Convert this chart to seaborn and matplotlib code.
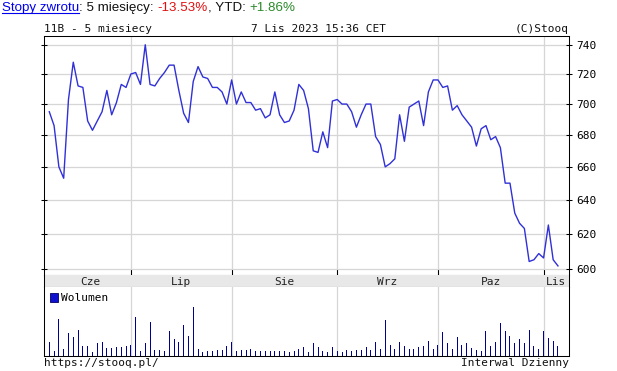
import numpy as np
import pandas as pd
import matplotlib
matplotlib.use("Agg")
import matplotlib.pyplot as plt
from matplotlib.patches import Patch
from matplotlib.lines import Line2D
from matplotlib.ticker import FixedLocator, FixedFormatter, NullLocator
import seaborn as sns

# ---------------- data ----------------
ticker = "11B"
period_label = "5 miesiecy"
timestamp = "7 Lis 2023 15:36 CET"
return_5m = -13.53
return_ytd = 1.86

holidays = ["2023-06-08", "2023-08-15", "2023-11-01"]
start_date = "2023-06-07"
end_date = "2023-11-07"

close = [695, 686, 660, 653, 703, 728, 712, 711, 689, 683,
         689, 695, 709, 693, 701, 713, 711, 720, 721, 713,
         740, 713, 712, 717, 721, 726, 726, 709, 694, 688,
         715, 725, 718, 717, 711, 711, 708, 700, 716, 700,
         708, 701, 701, 696, 697, 691, 693, 708, 693, 688,
         689, 696, 713, 709, 697, 670, 669, 682, 672, 702,
         703, 700, 700, 695, 685, 693, 700, 700, 679, 674,
         660, 662, 665, 693, 676, 698, 700, 702, 686, 708,
         716, 716, 711, 712, 696, 699, 693, 689, 685, 673,
         684, 686, 677, 679, 672, 650, 650, 632, 626, 623,
         604, 605, 608.5, 606, 625, 605, 601.5]

volume = [43, 16, 112, 22, 70, 58, 79, 31, 31, 11,
          38, 43, 24, 24, 28, 26, 31, 34, 118, 16,
          40, 103, 18, 18, 16, 76, 52, 43, 94, 61,
          148, 21, 12, 14, 16, 18, 18, 30, 43, 16,
          18, 18, 21, 16, 14, 16, 16, 16, 16, 16,
          12, 16, 22, 26, 11, 38, 28, 16, 11, 26,
          14, 11, 18, 16, 18, 18, 26, 18, 41, 21,
          109, 34, 21, 43, 31, 22, 21, 28, 30, 46,
          21, 34, 73, 40, 21, 56, 34, 38, 24, 18,
          14, 76, 31, 43, 100, 76, 61, 40, 52, 40,
          79, 31, 21, 76, 55, 46, 31]

month_names = {6: "Cze", 7: "Lip", 8: "Sie", 9: "Wrz", 10: "Paz", 11: "Lis"}
price_ticks = [600, 620, 640, 660, 680, 700, 720, 740]

# ---------------- frame ----------------
dates = pd.bdate_range(start_date, end_date, freq="C", holidays=holidays)
df = pd.DataFrame({"date": dates, "close": close, "volume": volume})
df["idx"] = np.arange(len(df))
month_first = df.groupby(df["date"].dt.month)["idx"].min()

W, H = 617, 371
fig = plt.figure(figsize=(W / 100, H / 100), dpi=100)
fig.patch.set_facecolor("white")

mono = {"family": "DejaVu Sans Mono", "size": 8}
line_col = "#3030d8"
grid_col = "#d6d6d6"
spine_lw = 0.75

x_left, x_right = -1.1, 108.3
px_l, px_r = 44, 569
px_per_idx = (px_r - px_l) / (x_right - x_left)


def fig_axes(top, bottom):
    return fig.add_axes([px_l / W, 1 - bottom / H, (px_r - px_l) / W, (bottom - top) / H])


# ---------------- price panel ----------------
ax = fig_axes(36, 275)
sns.lineplot(data=df, x="idx", y="close", ax=ax, color=line_col, linewidth=1.0)
ax.set_yscale("log")
ax.set_ylim(596.4, 746.1)
ax.set_xlim(x_left, x_right)
ax.yaxis.set_major_locator(FixedLocator(price_ticks))
ax.yaxis.set_major_formatter(FixedFormatter([str(t) for t in price_ticks]))
ax.yaxis.set_minor_locator(NullLocator())
ax.xaxis.set_major_locator(FixedLocator(list(month_first.values[1:])))
ax.xaxis.set_minor_locator(NullLocator())
ax.tick_params(axis="x", which="both", direction="in", length=4, width=spine_lw,
               labelbottom=False, top=False, color="black")
ax.tick_params(axis="y", which="both", direction="inout", length=5, width=spine_lw,
               left=True, right=True, labelleft=False, labelright=True, pad=3,
               labelsize=8, color="black")
for lab in ax.get_yticklabels():
    lab.set_family("DejaVu Sans Mono")
ax.grid(True, color=grid_col, linewidth=0.9)
ax.set_axisbelow(True)
ax.set_xlabel("")
ax.set_ylabel("")
for s in ax.spines.values():
    s.set_color("black")
    s.set_linewidth(spine_lw)

# ---------------- month band ----------------
axb = fig_axes(275, 287.3)
axb.set_facecolor("#e8e8e8")
axb.set_xlim(x_left, x_right)
axb.set_ylim(0, 1)
axb.set_xticks([])
axb.set_yticks([])
for s in axb.spines.values():
    s.set_color("black")
    s.set_linewidth(spine_lw)
axb.spines["top"].set_visible(False)
starts = list(month_first.values)
ends = starts[1:] + [x_right]
for m, s0, e0 in zip(month_first.index, starts, ends):
    axb.text((s0 + e0) / 2, 0.42, month_names[m], ha="center", va="center",
             color="#222222", **mono)

# ---------------- volume panel ----------------
axv = fig_axes(287.3, 356)
sns.barplot(data=df, x="idx", y="volume", native_scale=True, width=1.0 / px_per_idx,
            color="#00008f", saturation=1, errorbar=None, linewidth=0, ax=axv)
for p in axv.patches:
    p.set_antialiased(False)
axv.set_xlim(x_left, x_right)
axv.set_ylim(0, 206)
axv.xaxis.set_major_locator(FixedLocator(list(month_first.values[1:])))
axv.set_yticks([])
axv.tick_params(axis="x", length=0, labelbottom=False)
axv.grid(True, axis="x", color=grid_col, linewidth=0.9)
axv.set_axisbelow(True)
axv.set_xlabel("")
axv.set_ylabel("")
for s in axv.spines.values():
    s.set_color("black")
    s.set_linewidth(spine_lw)
axv.spines["top"].set_visible(False)
axv.legend(handles=[Patch(facecolor="#1010d0", edgecolor="#000060", linewidth=0.6,
                          label="Wolumen")],
           loc="upper left", bbox_to_anchor=(0.0, 1.0), frameon=False,
           handlelength=0.75, handleheight=0.75, handletextpad=0.25,
           borderaxespad=0.35, borderpad=0.2, prop=mono)

# ---------------- texts ----------------
fig.text(px_l / W, 1 - 32.5 / H, f"{ticker} - {period_label}", ha="left",
         va="baseline", color="#111111", **mono)
fig.text(251 / W, 1 - 32.5 / H, timestamp, ha="left", va="baseline",
         color="#111111", **mono)
fig.text(px_r / W, 1 - 32.5 / H, "(C)Stooq", ha="right", va="baseline",
         color="#111111", **mono)
fig.text(px_l / W, 1 - 365.5 / H, "https://stooq.pl/", ha="left", va="baseline",
         color="#111111", **mono)
fig.text(px_r / W, 1 - 365.5 / H, "Interwal Dzienny", ha="right", va="baseline",
         color="#111111", **mono)

renderer = fig.canvas.get_renderer()
pieces = [("Stopy zwrotu", "#0000ee"),
          (": 5 miesięcy: ", "#111111"),
          (f"{return_5m:+.2f}%", "#e01010"),
          (", YTD: ", "#111111"),
          (f"{return_ytd:+.2f}%", "#2a8a2a")]
x = 2
y = H - 11
for i, (txt, col) in enumerate(pieces):
    t = fig.text(x / W, y / H, txt, color=col, fontsize=9.6,
                 family="Liberation Sans", ha="left", va="baseline")
    bb = t.get_window_extent(renderer)
    if i == 0:
        fig.add_artist(Line2D([bb.x0 / W, bb.x1 / W], [(y - 1.6) / H] * 2,
                              transform=fig.transFigure, color=col, linewidth=0.8))
    x = bb.x1

fig.savefig("out.png", dpi=100)
